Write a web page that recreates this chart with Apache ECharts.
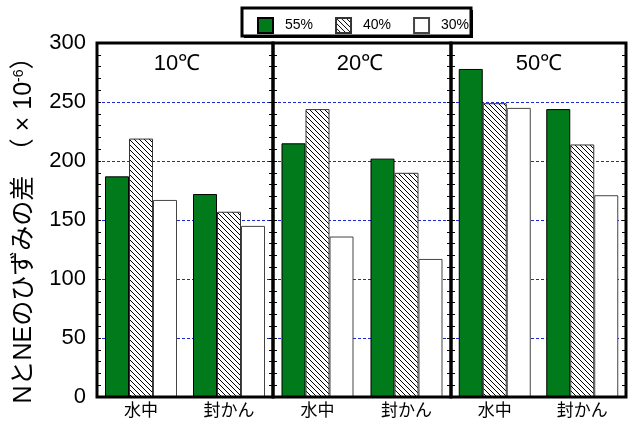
<!DOCTYPE html>
<html>
<head>
<meta charset="utf-8">
<script src="https://cdn.jsdelivr.net/npm/echarts@6/dist/echarts.min.js"></script>
<style>html,body{margin:0;padding:0;background:#fff}</style>
</head>
<body>
<div id="chart" style="width:634px;height:425px"></div>
<script>
// Data: strain difference between N and NE (×10^-6), per curing temperature panel
const categories = ['水中', '封かん'];
const panels = ['10℃', '20℃', '50℃'];
const seriesNames = ['55%', '40%', '30%'];
const v55 = [[187, 172], [215, 202], [278, 244]];
const v40 = [[219, 157], [244, 190], [249, 214]];
const v30 = [[167, 145], [136, 117], [245, 171]];
const yMin = 0, yMax = 300, yStep = 50;

const NUM_FONT = '"Liberation Sans", Arial, sans-serif';
const JP_FONT = '"Liberation Sans", "Noto Sans CJK JP", sans-serif';

// panel layout
const edges = [97, 273, 451, 626];
const plotTop = 43, plotHeight = 354;

function hatchPattern() {
  const c = document.createElement('canvas');
  c.width = 5; c.height = 5;
  const g = c.getContext('2d');
  g.fillStyle = '#fff'; g.fillRect(0, 0, 5, 5);
  g.fillStyle = '#000';
  for (let i = 0; i < 5; i++) g.fillRect(i, i, 1, 1);
  return c;
}
const hatch = { image: hatchPattern(), repeat: 'repeat' };

const styles = [
  { color: '#007a1a', borderColor: '#000', borderWidth: 1 },
  { color: hatch, borderColor: '#333', borderWidth: 1 },
  { color: '#fff', borderColor: '#444', borderWidth: 1 }
];
const valuesBySeries = [v55, v40, v30];

const grids = [], xAxes = [], yAxes = [], series = [], graphics = [];

panels.forEach((p, i) => {
  const left = edges[i], width = edges[i + 1] - edges[i];
  grids.push({ left: left, top: plotTop, width: width, height: plotHeight });
  xAxes.push({
    type: 'category', gridIndex: i, data: categories,
    axisLine: { show: false }, axisTick: { show: false },
    axisLabel: { fontSize: 17, color: '#000', margin: 6, fontFamily: JP_FONT }
  });
  const tickCommon = {
    type: 'value', gridIndex: i, min: yMin, max: yMax, interval: yStep,
    axisLine: { show: false },
    axisTick: { show: true, inside: true, length: 4, lineStyle: { color: '#000' } },
    minorTick: { show: true, splitNumber: 5, length: 4, lineStyle: { color: '#000' } }
  };
  yAxes.push(Object.assign({}, tickCommon, {
    position: 'left',
    axisLabel: i === 0
      ? { show: true, fontSize: 22, color: '#000', margin: 11, fontFamily: NUM_FONT }
      : { show: false },
    splitLine: { show: true, lineStyle: { color: '#1a2bd6', width: 1, type: [3, 2] } },
    name: i === 0 ? 'NとNEのひずみの差　（ × 10{sup|-6}）' : '',
    nameLocation: 'middle', nameGap: 60, nameRotate: 90,
    nameTextStyle: {
      fontSize: 25, color: '#000', fontFamily: JP_FONT, padding: [0, 8, 0, 0],
      rich: { sup: { fontSize: 14, color: '#000', verticalAlign: 'top', fontFamily: NUM_FONT, padding: [0, 0, 10, 0] } }
    }
  }));
  yAxes.push(Object.assign({}, tickCommon, {
    position: 'right', axisLabel: { show: false }, splitLine: { show: false }
  }));
  seriesNames.forEach((n, k) => {
    series.push({
      name: n, type: 'bar', xAxisIndex: i, yAxisIndex: i * 2,
      data: valuesBySeries[k][i], barWidth: 24, barGap: '0%',
      itemStyle: styles[k]
    });
  });
  // panel frame
  graphics.push({
    type: 'rect', z: 50,
    shape: { x: left, y: plotTop, width: width, height: plotHeight },
    style: { fill: 'none', stroke: '#000', lineWidth: 3 }
  });
  graphics.push({
    type: 'text', z: 50,
    x: [177, 360, 539][i], y: 64,
    style: { text: p, fontSize: 22, fill: '#000', align: 'center', verticalAlign: 'middle', fontFamily: NUM_FONT }
  });
});

// legend box with offset shadow
graphics.push({ type: 'rect', z: 1, shape: { x: 244, y: 10, width: 229, height: 28 }, style: { fill: '#000' } });
graphics.push({ type: 'rect', z: 1, shape: { x: 242, y: 8, width: 229, height: 28 }, style: { fill: '#fff', stroke: '#000', lineWidth: 3 } });

const chart = echarts.init(document.getElementById('chart'), null, { renderer: 'canvas' });
chart.setOption({
  animation: false,
  backgroundColor: '#fff',
  grid: grids,
  xAxis: xAxes,
  yAxis: yAxes,
  series: series,
  legend: {
    data: seriesNames, left: 252, top: 12, z: 10,
    itemWidth: 15, itemHeight: 15, itemGap: 22, icon: 'rect',
    textStyle: { fontSize: 14, color: '#000', fontFamily: NUM_FONT, padding: [0, 0, 0, 7] }
  },
  graphic: graphics
});
</script>
</body>
</html>
